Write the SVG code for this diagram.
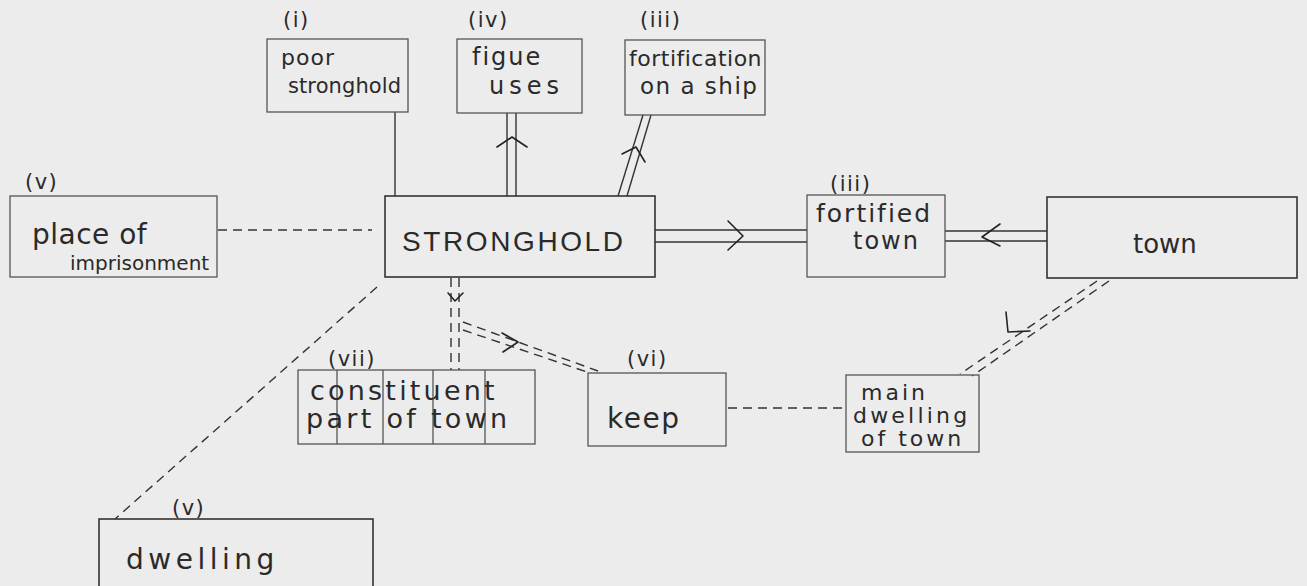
<svg xmlns="http://www.w3.org/2000/svg" width="1307" height="586" viewBox="0 0 1307 586">
<style>
.box{fill:none;stroke:#555;stroke-width:1.3}
.ln{fill:none;stroke:#333;stroke-width:1.4}
.dash{fill:none;stroke:#333;stroke-width:1.4;stroke-dasharray:9 6}
.arr{fill:none;stroke:#222;stroke-width:1.6;stroke-linecap:round;stroke-linejoin:round}
text{font-family:"DejaVu Sans","Liberation Sans",sans-serif;fill:#2a2a2a}
.lb{font-size:21px;letter-spacing:1.5px}
</style>
<rect width="1307" height="586" fill="#ececec"/>
<g id="connectors">
  <line class="ln" x1="395" y1="112" x2="395" y2="196"/>
  <line class="ln" x1="507" y1="113" x2="507" y2="196"/>
  <line class="ln" x1="516" y1="113" x2="516" y2="196"/>
  <polyline class="arr" points="497,147 512,137 527,147"/>
  <line class="ln" x1="643" y1="115" x2="618" y2="196"/>
  <line class="ln" x1="651" y1="115" x2="627" y2="196"/>
  <polyline class="arr" points="622,154 636,147 645,162"/>
  <line class="ln" x1="655" y1="230" x2="807" y2="230"/>
  <line class="ln" x1="655" y1="242" x2="807" y2="242"/>
  <polyline class="arr" points="728,221 743,236 728,250"/>
  <line class="ln" x1="945" y1="231" x2="1047" y2="231"/>
  <line class="ln" x1="945" y1="241" x2="1047" y2="241"/>
  <polyline class="arr" points="1000,224 982,237 1000,246"/>
  <line class="dash" x1="218" y1="230" x2="372" y2="230"/>
  <line class="dash" x1="377" y1="287" x2="115" y2="519"/>
  <line class="dash" x1="451" y1="278" x2="451" y2="370"/>
  <line class="dash" x1="459" y1="278" x2="459" y2="370"/>
  <polyline class="arr" points="448,293 455,301 463,293"/>
  <line class="dash" x1="463" y1="322" x2="598" y2="371"/>
  <line class="dash" x1="463" y1="330" x2="590" y2="373"/>
  <polyline class="arr" points="502,333 518,342 503,352"/>
  <line class="dash" x1="728" y1="408" x2="845" y2="408"/>
  <line class="dash" x1="1097" y1="281" x2="960" y2="374"/>
  <line class="dash" x1="1109" y1="281" x2="972" y2="376"/>
  <polyline class="arr" points="1006,312 1008,332 1030,331"/>
</g>
<g id="n-poor">
  <rect class="box" x="267" y="39" width="141" height="73"/>
  <text class="lb" x="283" y="27">(i)</text>
  <text x="281" y="65" font-size="22" letter-spacing="1">poor</text>
  <text x="288" y="93" font-size="21" letter-spacing="0.1">stronghold</text>
</g>
<g id="n-figue">
  <rect class="box" x="457" y="39" width="125" height="74"/>
  <text class="lb" x="468" y="27">(iv)</text>
  <text x="472" y="65" font-size="24" letter-spacing="2">figue</text>
  <text x="489" y="94" font-size="24" letter-spacing="5">uses</text>
</g>
<g id="n-ship">
  <rect class="box" x="625" y="40" width="140" height="75"/>
  <text class="lb" x="640" y="27">(iii)</text>
  <text x="629" y="66" font-size="22" letter-spacing="0.5">fortification</text>
  <text x="640" y="94" font-size="23" letter-spacing="1.5">on a ship</text>
</g>
<g id="n-prison">
  <rect class="box" x="10" y="196" width="207" height="81"/>
  <text class="lb" x="25" y="189">(v)</text>
  <text x="32" y="244" font-size="28" letter-spacing="0.5">place of</text>
  <text x="70" y="270" font-size="20">imprisonment</text>
</g>
<g id="n-stronghold">
  <rect class="box" x="385" y="196" width="270" height="81" style="stroke:#333;stroke-width:1.6"/>
  <text x="402" y="251" font-size="28" letter-spacing="2.6" style="font-family:'Liberation Sans',sans-serif">STRONGHOLD</text>
</g>
<g id="n-fortified">
  <rect class="box" x="807" y="195" width="138" height="82"/>
  <text class="lb" x="830" y="191">(iii)</text>
  <text x="816" y="222" font-size="25" letter-spacing="2">fortified</text>
  <text x="853" y="249" font-size="24" letter-spacing="2">town</text>
</g>
<g id="n-town">
  <rect class="box" x="1047" y="197" width="250" height="81" style="stroke:#333;stroke-width:1.6"/>
  <text x="1133" y="253" font-size="26">town</text>
</g>
<g id="n-constituent">
  <rect class="box" x="298" y="370" width="237" height="74"/>
  <line class="box" x1="337" y1="370" x2="337" y2="444"/>
  <line class="box" x1="383" y1="370" x2="383" y2="444"/>
  <line class="box" x1="433" y1="370" x2="433" y2="444"/>
  <line class="box" x1="485" y1="370" x2="485" y2="444"/>
  <text class="lb" x="328" y="366">(vii)</text>
  <text x="310" y="400" font-size="27" letter-spacing="3.2">constituent</text>
  <text x="306" y="428" font-size="27" letter-spacing="3.3">part of town</text>
</g>
<g id="n-keep">
  <rect class="box" x="588" y="373" width="138" height="73"/>
  <text class="lb" x="627" y="366">(vi)</text>
  <text x="607" y="428" font-size="28" letter-spacing="1.5">keep</text>
</g>
<g id="n-main">
  <rect class="box" x="846" y="375" width="133" height="77"/>
  <text x="861" y="400" font-size="22" letter-spacing="3">main</text>
  <text x="853" y="423" font-size="22" letter-spacing="3.2">dwelling</text>
  <text x="861" y="446" font-size="22" letter-spacing="3">of town</text>
</g>
<g id="n-dwelling">
  <rect class="box" x="99" y="519" width="274" height="70" style="stroke:#333;stroke-width:1.6"/>
  <text class="lb" x="172" y="515">(v)</text>
  <text x="126" y="569" font-size="28" letter-spacing="4.5">dwelling</text>
</g>
</svg>
